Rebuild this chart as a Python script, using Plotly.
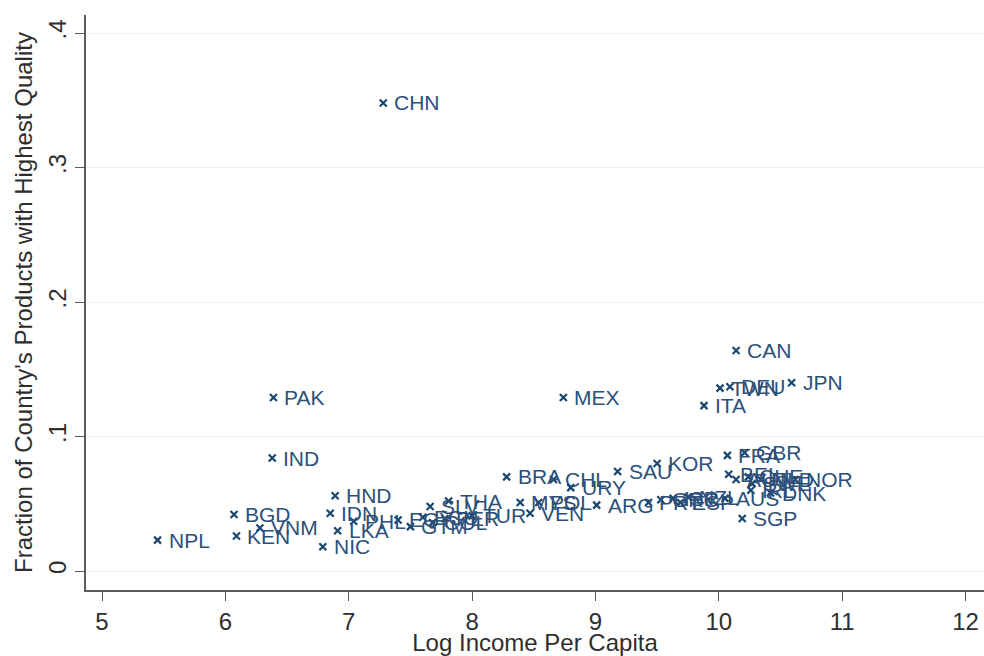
import plotly.graph_objects as go

# Country codes, log income per capita, and share of products at the top quality rung
countries = ["CHN", "CAN", "JPN", "TWN", "DEU", "ITA", "PAK", "MEX", "IND", "NPL",
             "KEN", "BGD", "VNM", "HND", "IDN", "NIC", "LKA", "PHL", "EGY", "GTM",
             "ECU", "SLV", "COL", "PER", "THA", "TUR", "BRA", "MYS", "VEN", "POL",
             "CHL", "URY", "ARG", "SAU", "KOR", "PRT", "GRC", "ESP", "ISR", "NZL",
             "AUS", "FRA", "GBR", "BEL", "AUT", "CHE", "SWE", "NLD", "IRL", "DNK",
             "NOR", "SGP"]
log_income = [7.28, 10.14, 10.59, 10.01, 10.09, 9.88, 6.39, 8.74, 6.38, 5.45,
              6.09, 6.07, 6.28, 6.89, 6.85, 6.79, 6.91, 7.04, 7.40, 7.50,
              7.60, 7.66, 7.68, 7.78, 7.81, 8.00, 8.28, 8.39, 8.47, 8.54,
              8.66, 8.80, 9.01, 9.18, 9.50, 9.43, 9.53, 9.69, 9.63, 9.75,
              10.05, 10.07, 10.21, 10.08, 10.14, 10.24, 10.27, 10.34, 10.26, 10.42,
              10.62, 10.19]
top_share = [0.348, 0.164, 0.140, 0.136, 0.137, 0.123, 0.129, 0.129, 0.084, 0.023,
             0.026, 0.042, 0.032, 0.056, 0.043, 0.018, 0.030, 0.037, 0.038, 0.033,
             0.040, 0.048, 0.036, 0.039, 0.052, 0.041, 0.070, 0.051, 0.043, 0.051,
             0.068, 0.062, 0.049, 0.074, 0.080, 0.051, 0.053, 0.051, 0.054, 0.055,
             0.054, 0.086, 0.088, 0.072, 0.068, 0.070, 0.065, 0.068, 0.060, 0.058,
             0.068, 0.039]

x_ticks = [5, 6, 7, 8, 9, 10, 11, 12]
y_ticks = [0, 0.1, 0.2, 0.3, 0.4]
y_tick_text = ["0", ".1", ".2", ".3", ".4"]

navy = "#1a476f"
label_color = "#2c5079"
font_family = "Liberation Sans, Arial, sans-serif"

fig = go.Figure()
fig.add_trace(go.Scatter(
    x=log_income, y=top_share, mode="markers",
    marker=dict(symbol="x-thin", size=7, color=navy,
                line=dict(width=2.2, color=navy)),
    hoverinfo="skip", showlegend=False,
))

# Country labels placed to the right of each marker
for name, xv, yv in zip(countries, log_income, top_share):
    fig.add_annotation(x=xv, y=yv, text=name, showarrow=False,
                       xanchor="left", yanchor="middle", xshift=9,
                       font=dict(family=font_family, size=21, color=label_color))

axis_color = "#5b5b5b"
text_color = "#2e2e2e"
fig.update_layout(
    width=984, height=656,
    margin=dict(l=86, r=0, t=15, b=66),
    paper_bgcolor="white", plot_bgcolor="white",
    font=dict(family=font_family, color=text_color),
    xaxis=dict(
        range=[4.87, 12.15], tickvals=x_ticks, ticks="outside", ticklen=9,
        tickwidth=1.2, tickcolor=axis_color, showgrid=False, zeroline=False,
        showline=True, linecolor=axis_color, linewidth=1.5,
        tickfont=dict(size=24, color=text_color),
        title=dict(text="Log Income Per Capita", font=dict(size=24, color=text_color),
                   standoff=2),
    ),
    yaxis=dict(
        range=[-0.0141, 0.4134], tickvals=y_ticks, ticktext=y_tick_text,
        tickangle=-90, ticks="outside", ticklen=9, tickwidth=1.2,
        tickcolor=axis_color, showgrid=True, gridcolor="#e8f0f2", gridwidth=1.2,
        zeroline=False, showline=True, linecolor=axis_color, linewidth=1.5,
        tickfont=dict(size=24, color=text_color),
        title=dict(text="Fraction of Country's Products with Highest Quality",
                   font=dict(size=24, color=text_color), standoff=4),
    ),
)

fig.write_html("out.html")
